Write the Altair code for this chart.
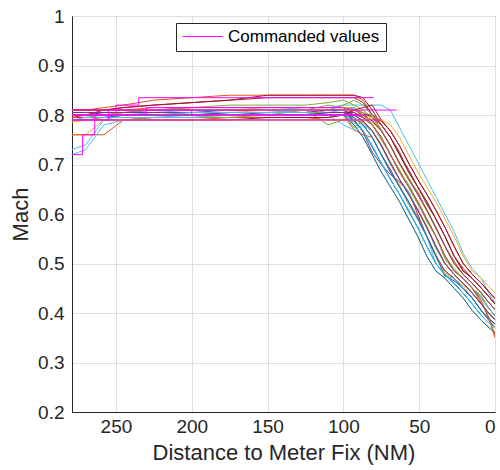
import altair as alt
import pandas as pd

# Distance grid (NM to meter fix) shared by every flight trace
distance = [279, 270, 258, 245, 225, 200, 175, 150, 125, 110, 100, 93, 87, 81,
            75, 69, 63, 57, 51, 45, 39, 33, 27, 21, 15, 9, 4, 0]

# Mach of each flight at the distances above
f01 = [0.80,0.80,0.80,0.805,0.805,0.805,0.81,0.81,0.81,0.81,0.81, 0.795,0.78,0.755,0.72,0.69,0.655,0.62,0.59,0.555,0.515,0.485,0.47,0.45,0.43,0.405,0.388,0.378]
f02 = [0.81,0.81,0.815,0.82,0.83,0.835,0.84,0.84,0.84,0.84,0.84, 0.84,0.83,0.80,0.77,0.738,0.703,0.67,0.645,0.608,0.573,0.535,0.505,0.478,0.46,0.44,0.421,0.407]
f03 = [0.76,0.76,0.79,0.79,0.795,0.795,0.80,0.80,0.80,0.80,0.80, 0.795,0.78,0.755,0.72,0.685,0.66,0.62,0.59,0.555,0.52,0.48,0.47,0.455,0.43,0.405,0.388,0.375]
f04 = [0.80,0.80,0.80,0.80,0.80,0.80,0.80,0.805,0.805,0.80,0.80, 0.79,0.765,0.725,0.70,0.68,0.665,0.645,0.60,0.555,0.515,0.485,0.47,0.45,0.43,0.405,0.385,0.37]
f05 = [0.79,0.79,0.795,0.80,0.80,0.80,0.805,0.805,0.81,0.82,0.815, 0.80,0.795,0.78,0.75,0.72,0.685,0.66,0.625,0.585,0.555,0.515,0.49,0.47,0.45,0.435,0.409,0.395]
f06 = [0.73,0.74,0.79,0.80,0.805,0.81,0.81,0.81,0.815,0.815,0.82, 0.82,0.82,0.82,0.82,0.81,0.775,0.74,0.705,0.67,0.635,0.60,0.565,0.52,0.49,0.47,0.44,0.42]
f07 = [0.80,0.80,0.80,0.80,0.80,0.80,0.80,0.80,0.80,0.80,0.80, 0.81,0.805,0.795,0.78,0.755,0.725,0.685,0.655,0.62,0.59,0.555,0.515,0.485,0.47,0.45,0.433,0.418]
f08 = [0.79,0.79,0.79,0.79,0.79,0.79,0.79,0.79,0.79,0.79,0.79, 0.788,0.768,0.738,0.703,0.67,0.64,0.608,0.573,0.535,0.50,0.478,0.46,0.44,0.418,0.395,0.38,0.37]
f09 = [0.76,0.76,0.76,0.79,0.79,0.79,0.795,0.795,0.795,0.795,0.80, 0.77,0.76,0.755,0.72,0.69,0.655,0.625,0.595,0.555,0.515,0.485,0.47,0.45,0.43,0.405,0.388,0.378]
f10 = [0.81,0.81,0.81,0.81,0.81,0.81,0.81,0.815,0.815,0.815,0.815, 0.815,0.805,0.79,0.768,0.738,0.70,0.67,0.64,0.605,0.573,0.535,0.50,0.478,0.46,0.44,0.421,0.407]
f11 = [0.80,0.80,0.805,0.805,0.81,0.81,0.81,0.81,0.81,0.81,0.81, 0.80,0.788,0.768,0.74,0.703,0.67,0.64,0.61,0.573,0.535,0.50,0.478,0.46,0.44,0.418,0.399,0.387]
f12 = [0.795,0.795,0.80,0.80,0.80,0.80,0.80,0.80,0.81,0.78,0.79, 0.80,0.805,0.78,0.755,0.72,0.69,0.655,0.62,0.59,0.555,0.51,0.485,0.47,0.45,0.43,0.409,0.395]
f13 = [0.80,0.80,0.80,0.80,0.80,0.805,0.805,0.805,0.81,0.80,0.78, 0.77,0.78,0.768,0.738,0.70,0.67,0.645,0.608,0.573,0.53,0.50,0.478,0.46,0.44,0.418,0.399,0.387]
f14 = [0.80,0.80,0.81,0.815,0.82,0.825,0.83,0.835,0.835,0.835,0.835, 0.835,0.825,0.80,0.78,0.755,0.72,0.69,0.655,0.625,0.59,0.555,0.515,0.49,0.47,0.45,0.433,0.418]
f15 = [0.795,0.795,0.795,0.80,0.80,0.80,0.80,0.80,0.80,0.805,0.805, 0.79,0.768,0.735,0.703,0.67,0.64,0.605,0.573,0.535,0.50,0.478,0.46,0.44,0.418,0.395,0.38,0.37]
f16 = [0.81,0.81,0.81,0.81,0.81,0.815,0.815,0.815,0.815,0.815,0.815, 0.805,0.795,0.78,0.755,0.72,0.685,0.655,0.625,0.59,0.555,0.515,0.485,0.47,0.45,0.42,0.39,0.35]
f17 = [0.785,0.79,0.79,0.79,0.79,0.79,0.79,0.79,0.79,0.79,0.79, 0.79,0.79,0.785,0.768,0.74,0.703,0.67,0.64,0.61,0.573,0.535,0.50,0.478,0.46,0.44,0.421,0.407]
f18 = [0.80,0.80,0.80,0.80,0.80,0.80,0.805,0.805,0.805,0.805,0.805, 0.805,0.795,0.78,0.755,0.72,0.685,0.655,0.625,0.59,0.555,0.515,0.485,0.47,0.45,0.43,0.409,0.395]
f19 = [0.80,0.80,0.80,0.805,0.81,0.815,0.82,0.82,0.82,0.825,0.83, 0.82,0.81,0.795,0.768,0.738,0.703,0.675,0.64,0.608,0.57,0.535,0.50,0.478,0.46,0.44,0.421,0.407]
f20 = [0.72,0.73,0.78,0.79,0.795,0.80,0.80,0.80,0.80,0.80,0.80, 0.795,0.78,0.755,0.72,0.685,0.655,0.625,0.59,0.555,0.50,0.475,0.47,0.45,0.43,0.405,0.388,0.378]
f21 = [0.795,0.80,0.80,0.80,0.80,0.80,0.80,0.80,0.80,0.80,0.80, 0.80,0.80,0.80,0.788,0.768,0.738,0.703,0.67,0.64,0.608,0.573,0.535,0.50,0.478,0.46,0.443,0.429]
f22 = [0.80,0.80,0.80,0.80,0.80,0.80,0.80,0.80,0.80,0.80,0.80, 0.795,0.78,0.755,0.72,0.685,0.655,0.625,0.59,0.555,0.515,0.475,0.465,0.45,0.43,0.405,0.388,0.378]
f23 = [0.795,0.795,0.795,0.795,0.795,0.795,0.795,0.795,0.795,0.79,0.79, 0.79,0.785,0.768,0.738,0.705,0.67,0.64,0.608,0.575,0.535,0.50,0.478,0.46,0.44,0.418,0.399,0.387]
f24 = [0.80,0.80,0.80,0.805,0.805,0.805,0.805,0.81,0.81,0.81,0.81, 0.78,0.755,0.72,0.685,0.655,0.625,0.59,0.555,0.515,0.485,0.47,0.45,0.43,0.405,0.385,0.372,0.362]
f25 = [0.805,0.805,0.805,0.805,0.805,0.805,0.805,0.805,0.805,0.81,0.81, 0.815,0.80,0.788,0.768,0.738,0.703,0.67,0.64,0.608,0.573,0.535,0.50,0.478,0.46,0.44,0.421,0.407]
f26 = [0.79,0.79,0.79,0.79,0.795,0.795,0.795,0.80,0.80,0.80,0.80, 0.775,0.788,0.768,0.738,0.703,0.67,0.64,0.608,0.573,0.535,0.50,0.478,0.46,0.44,0.418,0.399,0.387]
f27 = [0.80,0.80,0.80,0.80,0.80,0.805,0.805,0.805,0.805,0.805,0.81, 0.815,0.80,0.78,0.755,0.72,0.685,0.655,0.625,0.59,0.555,0.515,0.485,0.47,0.45,0.43,0.409,0.395]
f28 = [0.79,0.79,0.79,0.79,0.79,0.79,0.79,0.795,0.795,0.795,0.80, 0.81,0.815,0.82,0.79,0.768,0.738,0.703,0.67,0.64,0.608,0.573,0.535,0.50,0.478,0.46,0.443,0.429]
f29 = [0.80,0.80,0.80,0.80,0.80,0.80,0.80,0.80,0.80,0.80,0.80, 0.78,0.755,0.72,0.685,0.655,0.625,0.59,0.555,0.515,0.485,0.47,0.45,0.43,0.405,0.385,0.37,0.36]
f30 = [0.81,0.81,0.81,0.81,0.815,0.815,0.815,0.815,0.815,0.815,0.815, 0.81,0.80,0.78,0.755,0.72,0.685,0.655,0.625,0.59,0.555,0.515,0.485,0.47,0.45,0.425,0.39,0.355]
f31 = [0.79,0.79,0.79,0.79,0.79,0.79,0.79,0.79,0.79,0.79,0.79, 0.79,0.79,0.795,0.79,0.78,0.755,0.72,0.685,0.655,0.625,0.59,0.555,0.515,0.485,0.47,0.453,0.44]
f32 = [0.80,0.80,0.80,0.80,0.80,0.80,0.80,0.80,0.80,0.805,0.805, 0.80,0.788,0.768,0.738,0.703,0.67,0.64,0.608,0.573,0.535,0.50,0.478,0.46,0.44,0.418,0.399,0.387]
f33 = [0.80,0.80,0.80,0.80,0.80,0.80,0.80,0.80,0.80,0.81,0.82, 0.83,0.82,0.80,0.78,0.755,0.72,0.685,0.655,0.625,0.59,0.555,0.515,0.485,0.47,0.45,0.433,0.418]
f34 = [0.79,0.795,0.795,0.795,0.795,0.795,0.80,0.80,0.80,0.80,0.80, 0.785,0.768,0.738,0.703,0.67,0.64,0.608,0.573,0.535,0.50,0.478,0.46,0.44,0.418,0.395,0.38,0.37]
f35 = [0.81,0.81,0.81,0.815,0.82,0.825,0.83,0.84,0.84,0.84,0.84, 0.84,0.835,0.81,0.78,0.755,0.72,0.685,0.655,0.625,0.59,0.555,0.515,0.485,0.47,0.45,0.433,0.418]

flights = [f01, f02, f03, f04, f05, f06, f07, f08, f09, f10, f11, f12, f13, f14,
           f15, f16, f17, f18, f19, f20, f21, f22, f23, f24, f25, f26, f27, f28,
           f29, f30, f31, f32, f33, f34, f35]

# Commanded Mach values (step profiles)
cmd1_d = [279, 272, 272, 264, 264, 90]
cmd1_m = [0.72, 0.72, 0.76, 0.76, 0.80, 0.80]
cmd2_d = [279, 250, 250, 235, 235, 80]
cmd2_m = [0.80, 0.80, 0.82, 0.82, 0.835, 0.835]
cmd3_d = [279, 255, 255, 65]
cmd3_m = [0.79, 0.79, 0.81, 0.81]
cmd4_d = [279, 75]
cmd4_m = [0.79, 0.79]
cmd5_d = [279, 200, 200, 85]
cmd5_m = [0.81, 0.81, 0.80, 0.80]
cmd6_d = [279, 230, 230, 100]
cmd6_m = [0.80, 0.80, 0.815, 0.815]
commands = [(cmd1_d, cmd1_m), (cmd2_d, cmd2_m), (cmd3_d, cmd3_m),
            (cmd4_d, cmd4_m), (cmd5_d, cmd5_m), (cmd6_d, cmd6_m)]

x_ticks = [0, 50, 100, 150, 200, 250]
y_ticks = [0.2, 0.3, 0.4, 0.5, 0.6, 0.7, 0.8, 0.9, 1.0]

matlab_colors = ["#0072BD", "#D95319", "#EDB120", "#7E2F8E", "#77AC30", "#4DBEEE", "#A2142F"]

rows = []
for k, series in enumerate(flights):
    for i, (d, m) in enumerate(zip(distance, series)):
        rows.append({"flight": f"f{k + 1:02d}", "idx": i, "distance": d, "mach": m})
flight_df = pd.DataFrame(rows)

crow = []
for k, (ds, ms) in enumerate(commands):
    for i, (d, m) in enumerate(zip(ds, ms)):
        crow.append({"cmd": f"c{k}", "series": "Commanded values", "idx": i, "distance": d, "mach": m})
cmd_df = pd.DataFrame(crow)

FONT = "Liberation Sans"
TXT = "#262626"

x_enc = alt.X("distance:Q",
              scale=alt.Scale(domain=[0, 279], reverse=True, nice=False, zero=False),
              axis=alt.Axis(values=x_ticks, title="Distance to Meter Fix (NM)",
                            labelPadding=5, titlePadding=6))
y_enc = alt.Y("mach:Q",
              scale=alt.Scale(domain=[0.2, 1.0], nice=False, zero=False),
              axis=alt.Axis(values=y_ticks, format=".1~f", title="Mach",
                            labelPadding=8, titlePadding=5))

flights_layer = alt.Chart(flight_df).mark_line(strokeWidth=1, clip=True).encode(
    x=x_enc, y=y_enc,
    color=alt.Color("flight:N", scale=alt.Scale(range=matlab_colors), legend=None),
    order=alt.Order("idx:Q"),
)

cmd_layer = alt.Chart(cmd_df).mark_line(strokeWidth=1, clip=True).encode(
    x=x_enc, y=y_enc,
    color=alt.Color("series:N",
                    scale=alt.Scale(domain=["Commanded values"], range=["#FF00FF"]),
                    legend=alt.Legend(orient="none", legendX=104, legendY=7, title=None,
                                      strokeColor=TXT, fillColor="white", padding=6,
                                      symbolType="stroke", symbolSize=1600,
                                      symbolStrokeWidth=1, labelOffset=5,
                                      labelFontSize=17, labelFont=FONT,
                                      labelColor="black", clipHeight=15)),
    detail="cmd:N",
    order=alt.Order("idx:Q"),
)

chart = alt.layer(flights_layer, cmd_layer).resolve_scale(color="independent").properties(
    width=423, height=396,
    autosize=alt.AutoSizeParams(type="none"),
    padding={"left": 72, "top": 16, "right": 5, "bottom": 58},
    background="white",
).configure_view(
    stroke=TXT, strokeWidth=1
).configure_axis(
    labelFont=FONT, titleFont=FONT, labelFontSize=19, titleFontSize=22,
    labelColor=TXT, titleColor=TXT, titleFontWeight="normal",
    domainColor=TXT, domainWidth=1, ticks=False, tickSize=0,
    gridColor="#dfdfdf", gridWidth=1,
)

chart.save("out.html", embed_options={"renderer": "svg", "actions": False})
